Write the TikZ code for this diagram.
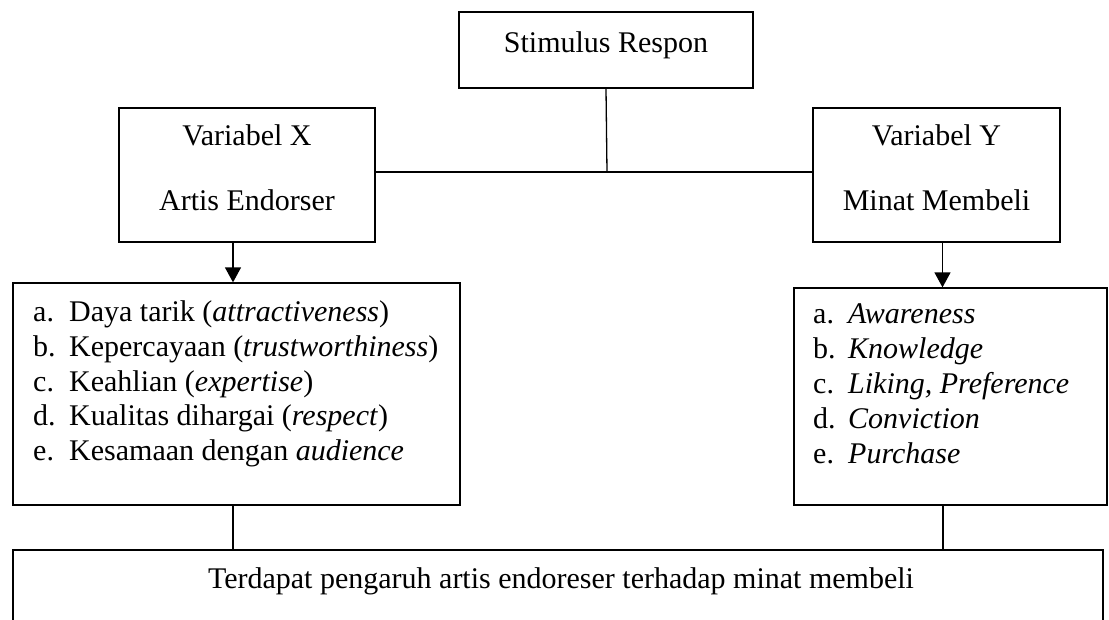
\documentclass[tikz,border=0pt]{standalone}
\usepackage{fontspec}
\setmainfont{Liberation Serif}
\usetikzlibrary{arrows.meta}
\begin{document}
\begin{tikzpicture}[x=1pt,y=-1pt,
  box/.style={draw,line width=1.3pt,rectangle,inner sep=0pt,minimum width=#1},
  txt/.style={inner sep=0pt,font=\fontsize{30}{34.5}\selectfont},
  conn/.style={line width=1.3pt},
  arr/.style={line width=1.3pt,-{Triangle[width=16pt,length=15pt]}}]
\clip (0,0) rectangle (1109,619);
\fill[white] (0,0) rectangle (1109,619);
% boxes
\node[box=294pt,minimum height=76pt] (S) at (606,50) {};
\node[box=256pt,minimum height=134pt] (X) at (247,175) {};
\node[box=247pt,minimum height=134pt] (Y) at (936.5,175) {};
\node[box=447pt,minimum height=222pt] (LX) at (236.5,394) {};
\node[box=313pt,minimum height=217pt] (RY) at (950.5,396.5) {};
\node[box=1090pt,minimum height=140pt] (B) at (558,620) {};
% texts
\node[txt,anchor=base] (tS) at (606,52) {Stimulus Respon};
\node[txt,anchor=base] (tX1) at (247,145) {Variabel X};
\node[txt,anchor=base] (tX2) at (247,210) {Artis Endorser};
\node[txt,anchor=base] (tY1) at (936.5,145) {Variabel Y};
\node[txt,anchor=base] (tY2) at (936.5,210) {Minat Membeli};
\node[txt,anchor=base west] (la) at (33,321) {\makebox[36pt][l]{a.}Daya tarik (\textit{attractiveness})};
\node[txt,anchor=base west] (lb) at (33,356) {\makebox[36pt][l]{b.}Kepercayaan (\textit{trustworthiness})};
\node[txt,anchor=base west] (lc) at (33,391) {\makebox[36pt][l]{c.}Keahlian (\textit{expertise})};
\node[txt,anchor=base west] (ld) at (33,425) {\makebox[36pt][l]{d.}Kualitas dihargai (\textit{respect})};
\node[txt,anchor=base west] (le) at (33,460) {\makebox[36pt][l]{e.}Kesamaan dengan \textit{audience}};
\node[txt,anchor=base west] (ra) at (813,323) {\makebox[35pt][l]{a.}\textit{Awareness}};
\node[txt,anchor=base west] (rb) at (813,358) {\makebox[35pt][l]{b.}\textit{Knowledge}};
\node[txt,anchor=base west] (rc) at (813,393) {\makebox[35pt][l]{c.}\textit{Liking, Preference}};
\node[txt,anchor=base west] (rd) at (813,428) {\makebox[35pt][l]{d.}\textit{Conviction}};
\node[txt,anchor=base west] (re) at (813,463) {\makebox[35pt][l]{e.}\textit{Purchase}};
\node[txt,anchor=base] (tB) at (561,588) {Terdapat pengaruh artis endoreser terhadap minat membeli};
% connectors
\coordinate (j) at (607,172);
\draw[conn] (S.south) -- (j);
\draw[conn] (j -| X.east) -- (j -| Y.west);
\draw[arr] ([xshift=-14pt]X.south) -- ([xshift=-14pt]X.south |- LX.north);
\draw[arr] ([xshift=6pt]Y.south) -- ([xshift=6pt]Y.south |- RY.north);
\draw[conn] ([xshift=-3.5pt]LX.south) -- ([xshift=-3.5pt]LX.south |- B.north);
\draw[conn] ([xshift=-7.5pt]RY.south) -- ([xshift=-7.5pt]RY.south |- B.north);
\end{tikzpicture}
\end{document}
